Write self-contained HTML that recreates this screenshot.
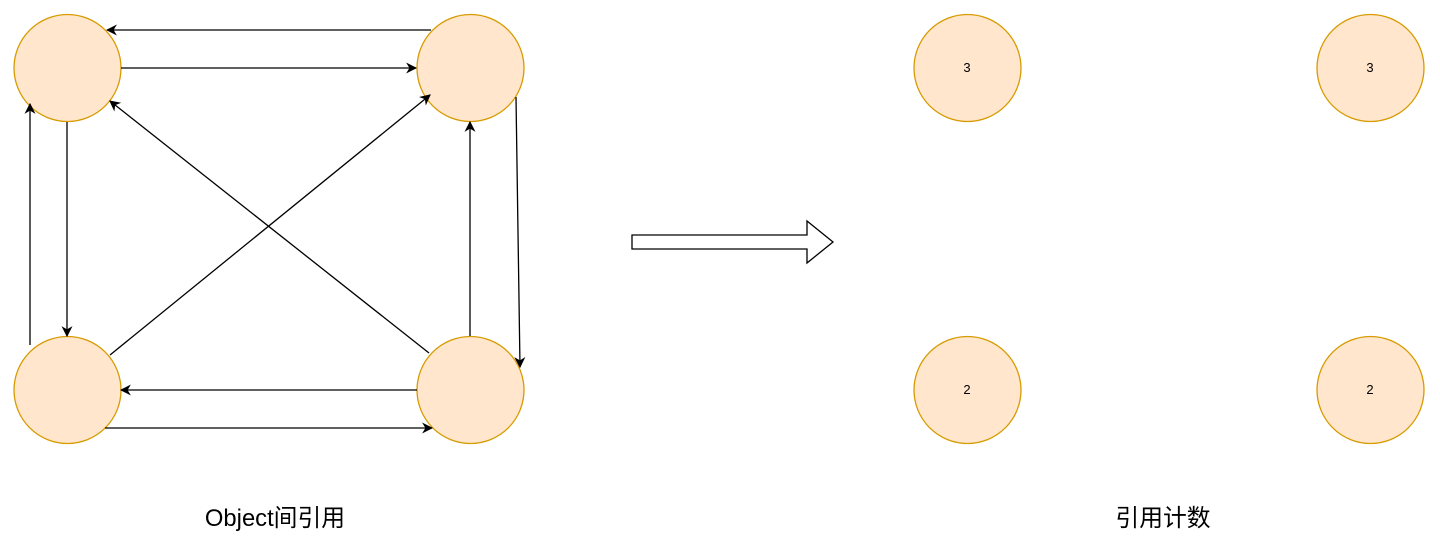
<!DOCTYPE html>
<html><head><style>body{margin:0;background:#fff}svg{display:block}</style></head>
<body>
<svg width="1440" height="552" viewBox="0 0 1440 552" xmlns="http://www.w3.org/2000/svg">
<defs>
<marker id="a" viewBox="0 0 10 10" refX="9" refY="5" markerWidth="11" markerHeight="11" markerUnits="userSpaceOnUse" orient="auto">
<path d="M0,0 L10,5 L0,10 L3,5 Z" fill="#000"/></marker>
</defs>
<g fill="#ffe6cc" stroke="#d79b00" stroke-width="1.3">
<circle cx="67.5" cy="68" r="53.5"/><circle cx="470.5" cy="68" r="53.5"/>
<circle cx="67.5" cy="390" r="53.5"/><circle cx="470.5" cy="390" r="53.5"/>
<circle cx="967.5" cy="68" r="53.5"/><circle cx="1370.5" cy="68" r="53.5"/>
<circle cx="967.5" cy="390" r="53.5"/><circle cx="1370.5" cy="390" r="53.5"/>
</g>
<g stroke="#000" stroke-width="1.3" fill="none" marker-end="url(#a)">
<line x1="431" y1="30" x2="107" y2="30"/>
<line x1="121" y1="68" x2="416" y2="68"/>
<line x1="30" y1="345" x2="30" y2="104"/>
<line x1="67" y1="122" x2="67" y2="336"/>
<line x1="429" y1="353" x2="110" y2="101"/>
<line x1="110" y1="355" x2="430" y2="95"/>
<line x1="470" y1="336" x2="470" y2="122"/>
<line x1="516" y1="97" x2="520" y2="367"/>
<line x1="417" y1="390" x2="121" y2="390"/>
<line x1="105" y1="428" x2="432" y2="428"/>
</g>
<path d="M632,235 L807,235 L807,221 L833,242 L807,263 L807,249 L632,249 Z" fill="#fff" stroke="#000" stroke-width="1.3"/>
<g font-family="Liberation Sans, sans-serif" font-size="13" text-anchor="middle" fill="#000">
<text x="967" y="72">3</text><text x="1370" y="72">3</text>
<text x="967" y="394">2</text><text x="1370" y="394">2</text>
</g>
<g font-family="Liberation Sans, 'Noto Sans CJK SC', sans-serif" font-size="23.8" text-anchor="middle" fill="#000">
<text x="275" y="526">Object间引用</text>
<text x="1163" y="526">引用计数</text>
</g>
</svg>
</body></html>
